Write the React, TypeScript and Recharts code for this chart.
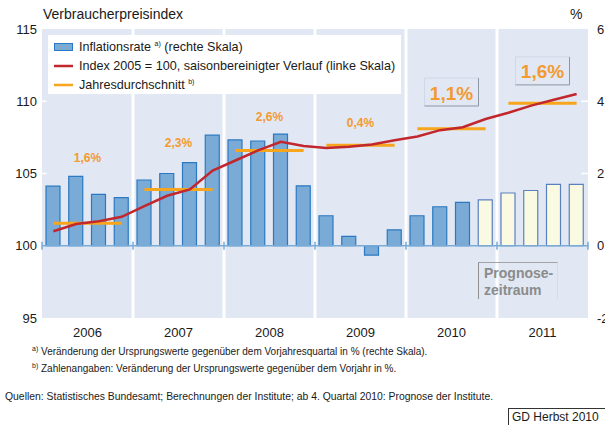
import React from "react";
import {
  ComposedChart,
  Bar,
  Line,
  Cell,
  XAxis,
  YAxis,
  CartesianGrid,
  ReferenceLine,
  ReferenceDot,
} from "recharts";

// Verbraucherpreisindex 2006–2011, Quartalswerte
const years = ["2006", "2007", "2008", "2009", "2010", "2011"];

// Inflationsrate in % (rechte Skala), ein Wert je Quartal
const inflation = [
  1.65, 1.92, 1.42, 1.33,
  1.82, 2.0, 2.3, 3.06,
  2.93, 2.9, 3.09, 1.66,
  0.83, 0.26, -0.26, 0.44,
  0.83, 1.08, 1.2, 1.27,
  1.46, 1.53, 1.7, 1.7,
];

// Index 2005 = 100, saisonbereinigt (linke Skala)
const priceIndex = [
  101.0, 101.5, 101.7, 102.0,
  102.75, 103.46, 103.9, 105.2,
  105.9, 106.6, 107.2, 106.9,
  106.76, 106.85, 107.0, 107.3,
  107.56, 108.0, 108.2, 108.77,
  109.2, 109.7, 110.1, 110.5,
];

// Jahresdurchschnitt des Index und Veränderung gegenüber Vorjahr
const annualAvg = [101.55, 103.9, 106.6, 106.95, 108.1, 109.87];
const annualRate = ["1,6%", "2,3%", "2,6%", "0,4%", "1,1%", "1,6%"];
// Höhe der Zahlenangabe (linke Skala)
const labelLevel = [106.1, 107.14, 108.94, 108.52, 110.64, 112.1];

// ab 4. Quartal 2010 Prognose
const forecastFrom = 19;

const leftTicks = [95, 100, 105, 110, 115];
const rightTicks = [-2, 0, 2, 4, 6];

const rows = inflation.map((rate, i) => {
  const y = Math.floor(i / 4);
  return {
    x: i + 0.5,
    rate,
    index: priceIndex[i],
    avgA: y % 2 === 0 ? annualAvg[y] : null,
    avgB: y % 2 === 1 ? annualAvg[y] : null,
    forecast: i >= forecastFrom,
  };
});

const yearCenters = years.map((_, i) => i * 4 + 2);
const yearBounds = [0, 4, 8, 12, 16, 20, 24];

const FONT = "'Liberation Sans', Arial, Helvetica, sans-serif";
const ORANGE = "#f7a51c";
const RED = "#c1272d";

function RateLabel(props: any) {
  const { cx, cy, text, big } = props;
  if (cx == null || cy == null) return null;
  if (!big) {
    return (
      <text x={cx} y={cy} textAnchor="middle" dominantBaseline="central" fontSize={12} fontWeight="bold" fill="#f39a31">
        {text}
      </text>
    );
  }
  const w = 54;
  const h = 28;
  const x0 = cx - w / 2;
  const y0 = cy - h / 2;
  return (
    <g>
      <line x1={x0} y1={y0} x2={x0 + w} y2={y0} stroke="#cfd8e6" />
      <line x1={x0} y1={y0} x2={x0} y2={y0 + h} stroke="#cfd8e6" />
      <line x1={x0 + w} y1={y0} x2={x0 + w} y2={y0 + h} stroke="#8d97a6" />
      <line x1={x0} y1={y0 + h} x2={x0 + w} y2={y0 + h} stroke="#8d97a6" />
      <text x={cx} y={cy + 1} textAnchor="middle" dominantBaseline="central" fontSize={19} fontWeight="bold" fill="#f39a31">
        {text}
      </text>
    </g>
  );
}

function LegendBox() {
  const sup = { fontSize: 7, verticalAlign: "super" as const, lineHeight: 0 };
  const row = { display: "flex", alignItems: "center", height: 19 };
  return (
    <div
      style={{
        position: "absolute",
        left: 48,
        top: 35,
        width: 353,
        height: 59,
        background: "#fff",
        fontSize: 12.6,
        color: "#1a1a1a",
        padding: "2px 0 0 6px",
        boxSizing: "border-box",
        whiteSpace: "nowrap",
      }}
    >
      <div style={row}>
        <svg width={25} height={10}>
          <rect x={0.5} y={1.5} width={18} height={7} fill="#7aaad6" stroke="#2b79c2" />
        </svg>
        <span>
          Inflationsrate <span style={sup}>a)</span> (rechte Skala)
        </span>
      </div>
      <div style={row}>
        <svg width={25} height={10}>
          <line x1={0} y1={5} x2={19} y2={5} stroke={RED} strokeWidth={2.5} />
        </svg>
        <span>Index 2005 = 100, saisonbereinigter Verlauf (linke Skala)</span>
      </div>
      <div style={row}>
        <svg width={25} height={10}>
          <line x1={0} y1={5} x2={19} y2={5} stroke={ORANGE} strokeWidth={2.5} />
        </svg>
        <span>
          Jahresdurchschnitt <span style={sup}>b)</span>
        </span>
      </div>
    </div>
  );
}

export default function App() {
  const sup = { fontSize: 7, verticalAlign: "super" as const, lineHeight: 0 };
  return (
    <div
      style={{
        position: "absolute",
        left: 0,
        top: 0,
        width: 605,
        height: 425,
        background: "#fff",
        fontFamily: FONT,
        color: "#1a1a1a",
        overflow: "hidden",
      }}
    >
      <ComposedChart
        width={605}
        height={425}
        data={rows}
        margin={{ top: 29, right: 0, bottom: 77, left: 0 }}
      >
        <CartesianGrid horizontal={false} vertical={false} fill="#e1e8f3" stroke="none" yAxisId="left" />
        <XAxis
          type="number"
          dataKey="x"
          domain={[0, 24]}
          ticks={yearCenters}
          tickFormatter={(v: number) => years[Math.floor(v / 4)]}
          axisLine={false}
          tickLine={false}
          tickMargin={4}
          height={30}
          tick={{ fill: "#1a1a1a", fontSize: 13 }}
        />
        <YAxis
          yAxisId="left"
          orientation="left"
          width={42}
          domain={[95, 115]}
          ticks={leftTicks}
          axisLine={false}
          tickLine={false}
          tickSize={4}
          tickMargin={1}
          tick={{ fill: "#1a1a1a", fontSize: 13 }}
        />
        <YAxis
          yAxisId="right"
          orientation="right"
          width={17}
          domain={[-2, 6]}
          ticks={rightTicks}
          axisLine={false}
          tickLine={false}
          tickSize={6}
          tickMargin={3}
          tick={{ fill: "#1a1a1a", fontSize: 13, textAnchor: "start" }}
        />

        {/* weiße Jahrestrenner */}
        {yearBounds.slice(1, -1).map((b) => (
          <ReferenceLine key={`sep${b}`} yAxisId="left" x={b} stroke="#ffffff" strokeWidth={3} />
        ))}
        {[105, 110].map((v) => (
          <ReferenceLine
            key={`tl${v}`}
            yAxisId="left"
            segment={[{ x: 0, y: v }, { x: 0.2, y: v }]}
            stroke="#ffffff"
            strokeWidth={1.5}
          />
        ))}
        {[105, 110].map((v) => (
          <ReferenceLine
            key={`tr${v}`}
            yAxisId="left"
            segment={[{ x: 23.7, y: v }, { x: 24, y: v }]}
            stroke="#ffffff"
            strokeWidth={1.5}
          />
        ))}

        <Bar dataKey="rate" yAxisId="right" barSize={14} isAnimationActive={false}>
          {rows.map((r, i) => (
            <Cell
              key={i}
              fill={r.forecast ? "#fafae3" : "#7aaad6"}
              stroke={r.forecast ? "#5a80c0" : "#2b79c2"}
              strokeWidth={1.2}
            />
          ))}
        </Bar>

        {/* Nulllinie mit Jahresmarken */}
        <ReferenceLine yAxisId="left" y={100} stroke="#7aaad6" strokeWidth={1.5} />
        {yearBounds.map((b) => (
          <ReferenceLine
            key={`tk${b}`}
            yAxisId="left"
            segment={[{ x: b, y: 99.72 }, { x: b, y: 100.28 }]}
            stroke="#7aaad6"
            strokeWidth={1.5}
          />
        ))}

        <Line
          dataKey="avgA"
          yAxisId="left"
          stroke={ORANGE}
          strokeWidth={3}
          dot={false}
          connectNulls={false}
          isAnimationActive={false}
        />
        <Line
          dataKey="avgB"
          yAxisId="left"
          stroke={ORANGE}
          strokeWidth={3}
          dot={false}
          connectNulls={false}
          isAnimationActive={false}
        />
        <Line
          dataKey="index"
          yAxisId="left"
          type="linear"
          stroke={RED}
          strokeWidth={2.5}
          dot={false}
          isAnimationActive={false}
        />

        {annualRate.map((t, i) => (
          <ReferenceDot
            key={`lab${i}`}
            yAxisId="left"
            x={yearCenters[i]}
            y={labelLevel[i]}
            r={0}
            shape={(p: any) => <RateLabel {...p} text={t} big={i >= 4} />}
          />
        ))}
      </ComposedChart>

      <LegendBox />

      <div style={{ position: "absolute", left: 43, top: 6, fontSize: 14 }}>Verbraucherpreisindex</div>
      <div style={{ position: "absolute", left: 570, top: 6, fontSize: 14 }}>%</div>

      <div
        style={{
          position: "absolute",
          left: 478,
          top: 262,
          width: 80,
          height: 37,
          borderLeft: "1px solid #8f8f8f",
          borderTop: "1px solid #a3a3a3",
          borderRight: "1px solid #d6dde8",
          boxSizing: "border-box",
          padding: "2px 0 0 5px",
          fontSize: 14,
          lineHeight: "17px",
          fontWeight: "bold",
          color: "#8b8b8b",
        }}
      >
        Prognose-
        <br />
        zeitraum
      </div>

      <div style={{ position: "absolute", left: 32, top: 346, fontSize: 10 }}>
        <span style={sup}>a)</span> Veränderung der Ursprungswerte gegenüber dem Vorjahresquartal in % (rechte Skala).
      </div>
      <div style={{ position: "absolute", left: 32, top: 363, fontSize: 10 }}>
        <span style={sup}>b)</span> Zahlenangaben: Veränderung der Ursprungswerte gegenüber dem Vorjahr in %.
      </div>
      <div style={{ position: "absolute", left: 5, top: 391, fontSize: 10.4 }}>
        Quellen: Statistisches Bundesamt; Berechnungen der Institute; ab 4. Quartal 2010: Prognose der Institute.
      </div>
      <div
        style={{
          position: "absolute",
          left: 508,
          top: 408,
          width: 100,
          height: 20,
          borderLeft: "1px solid #333",
          borderTop: "1px solid #333",
          boxSizing: "border-box",
          padding: "1px 0 0 3px",
          fontSize: 12,
        }}
      >
        GD Herbst 2010
      </div>
    </div>
  );
}
